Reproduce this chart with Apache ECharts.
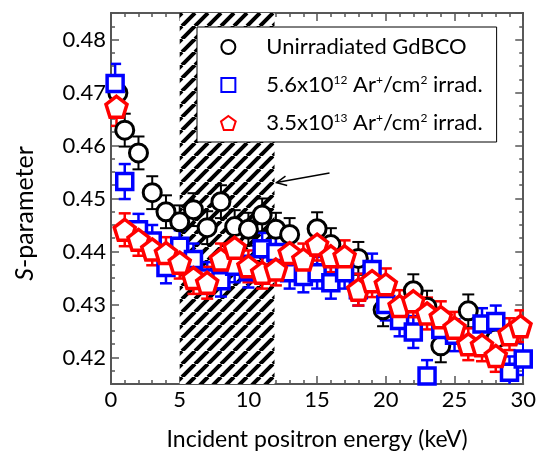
<!DOCTYPE html>
<html>
<head>
<meta charset="utf-8">
<script src="https://cdn.jsdelivr.net/npm/echarts@6/dist/echarts.min.js"></script>
<style>
  html, body { margin: 0; padding: 0; background: #fff; }
  #chart { width: 539px; height: 456px; }
</style>
</head>
<body>
<div id="chart"></div>
<script>
// data
const seriesNames = ['Unirradiated GdBCO', '5.6x10^12 Ar+/cm2 irrad.', '3.5x10^13 Ar+/cm2 irrad.']

const unirrEnergy = [0.5, 1, 2, 3, 4, 5, 6, 7, 8, 9, 10, 11, 12, 13, 15, 16, 18, 19.8, 22, 23, 24, 26, 28]
const unirrS = [0.4699, 0.4629, 0.4586, 0.4511, 0.4475, 0.4456, 0.4479, 0.4445, 0.4494, 0.4447, 0.4442, 0.4469,
  0.4442, 0.4432, 0.4443, 0.4413, 0.4387, 0.4290, 0.4326, 0.4295, 0.4222, 0.4288, 0.4235]
const unirrErr = [0.0031, 0.0031, 0.0031, 0.0031, 0.0031, 0.0031, 0.0031, 0.0031, 0.0031, 0.0031, 0.0031, 0.0031,
  0.0031, 0.0031, 0.0031, 0.0031, 0.0031, 0.0031, 0.0031, 0.0031, 0.0031, 0.0031, 0.0031]

const lowEnergy = [0.3, 1, 2, 3, 4, 5, 6, 7, 8, 9, 10, 11, 12, 13, 14, 15, 16, 17, 18, 19, 20, 21, 22, 23, 24, 25, 27, 28, 29, 30]
const lowS = [0.4717, 0.4532, 0.4441, 0.4420, 0.4370, 0.4410, 0.4385, 0.4350, 0.4345, 0.4372, 0.4362, 0.4405,
  0.4398, 0.4360, 0.4353, 0.4360, 0.4341, 0.4360, 0.4328, 0.4366, 0.4300, 0.4270, 0.4248, 0.4165,
  0.4253, 0.4242, 0.4263, 0.4268, 0.4172, 0.4197]
const lowErr = [0.0037, 0.0033, 0.003, 0.003, 0.003, 0.003, 0.003, 0.003, 0.003, 0.003, 0.003, 0.003,
  0.003, 0.003, 0.003, 0.003, 0.003, 0.003, 0.003, 0.003, 0.003, 0.003, 0.003, 0.003,
  0.003, 0.003, 0.003, 0.003, 0.003, 0.003]

const highEnergy = [0.4, 1, 2, 3, 4, 5, 6, 7, 8, 9, 10, 11, 12, 13, 14, 15, 16, 17, 18, 19, 20, 21, 22, 23, 24, 25, 26, 27, 28, 29, 29.8]
const highS = [0.4673, 0.4441, 0.4422, 0.4404, 0.4397, 0.4379, 0.4350, 0.4341, 0.4385, 0.4407, 0.4372, 0.4360,
  0.4366, 0.4397, 0.4385, 0.4413, 0.4391, 0.4391, 0.4328, 0.4344, 0.4338, 0.4297, 0.4306, 0.4283,
  0.4276, 0.4256, 0.4225, 0.4223, 0.4203, 0.4244, 0.4259]
const highErr = [0.0036, 0.0031, 0.003, 0.003, 0.003, 0.003, 0.003, 0.003, 0.003, 0.003, 0.003, 0.003,
  0.003, 0.003, 0.003, 0.003, 0.003, 0.003, 0.003, 0.003, 0.003, 0.003, 0.003, 0.003,
  0.003, 0.003, 0.003, 0.003, 0.003, 0.003, 0.003]

// shaded band (keV) and arrow [x0, y0, x1, y1]
const bandRange = [5, 11.9]
const arrowLine = [15.9, 0.4548, 12.05, 0.4530]

const font = 'Lato'
const axisColor = '#555'

const square = 'path://M-1,-1 L1,-1 L1,1 L-1,1 Z'
const pentagon = 'path://M0,-1 L0.951,-0.309 L0.588,0.809 L-0.588,0.809 L-0.951,-0.309 Z'

const makeHatch = () => {
  const s = 13
  const c = document.createElement('canvas')
  c.width = s
  c.height = s
  const ctx = c.getContext('2d')
  ctx.fillStyle = '#fff'
  ctx.fillRect(0, 0, s, s)
  ctx.strokeStyle = '#000'
  ctx.lineWidth = 4
  ctx.beginPath()
  for (const k of [-s, 0, s]) {
    ctx.moveTo(k, s)
    ctx.lineTo(k + s, 0)
  }
  ctx.stroke()
  return c
}

const zip = (xs, ys, es) => xs.map((x, i) => es ? [x, ys[i], es[i]] : [x, ys[i]])

const errorSeries = (xs, ys, es, color, width) => ({
  type: 'custom',
  clip: true,
  silent: true,
  data: zip(xs, ys, es),
  renderItem: (params, api) => {
    const x = api.value(0), y = api.value(1), e = api.value(2)
    const top = api.coord([x, y + e])
    const bot = api.coord([x, y - e])
    const w = 6
    const style = { stroke: color, lineWidth: width }
    return {
      type: 'group',
      children: [
        { type: 'line', shape: { x1: top[0], y1: top[1], x2: bot[0], y2: bot[1] }, style },
        { type: 'line', shape: { x1: top[0] - w, y1: top[1], x2: top[0] + w, y2: top[1] }, style },
        { type: 'line', shape: { x1: bot[0] - w, y1: bot[1], x2: bot[0] + w, y2: bot[1] }, style }
      ]
    }
  }
})

const legendLabel = {
  'Unirradiated GdBCO': '{n|Unirradiated GdBCO}',
  '5.6x10^12 Ar+/cm2 irrad.': '{n|5.6x10}{s|12}{n| Ar}{s|+}{n|/cm}{s|2}{n| irrad.}',
  '3.5x10^13 Ar+/cm2 irrad.': '{n|3.5x10}{s|13}{n| Ar}{s|+}{n|/cm}{s|2}{n| irrad.}'
}

const chart = echarts.init(document.getElementById('chart'))

const xBase = {
  type: 'value',
  min: 0,
  max: 30,
  interval: 5,
  splitLine: { show: false },
  axisLine: { onZero: false, lineStyle: { color: axisColor, width: 2 } },
  axisTick: { inside: true, length: 8, lineStyle: { color: axisColor, width: 1.5 } },
  minorTick: { show: true, splitNumber: 5, length: 4, lineStyle: { color: axisColor, width: 1.5 } }
}
const yBase = {
  type: 'value',
  min: 0.415,
  max: 0.485,
  minInterval: 0.01,
  maxInterval: 0.01,
  splitLine: { show: false },
  axisLine: { onZero: false, lineStyle: { color: axisColor, width: 2 } },
  axisTick: { inside: true, length: 8, lineStyle: { color: axisColor, width: 1.5 } },
  minorTick: { show: true, splitNumber: 4, length: 4, lineStyle: { color: axisColor, width: 1.5 } }
}

const option = {
  animation: false,
  textStyle: { fontFamily: font },
  grid: { left: 111, right: 14, top: 13, bottom: 72 },
  legend: {
    orient: 'vertical',
    left: 197,
    top: 27,
    padding: [9, 14, 8, 23],
    itemWidth: 66,
    itemHeight: 14,
    itemGap: 16,
    backgroundColor: '#fff',
    borderColor: '#000',
    borderWidth: 1,
    z: 10,
    data: seriesNames,
    formatter: name => legendLabel[name],
    textStyle: {
      color: '#000',
      rich: {
        n: { fontFamily: font, fontSize: 22, color: '#000' },
        s: { fontFamily: font, fontSize: 12, color: '#000', padding: [0, 0, 10, 0] }
      }
    }
  },
  xAxis: [
    {
      ...xBase,
      position: 'bottom',
      name: 'Incident positron energy (keV)',
      nameLocation: 'middle',
      nameGap: 44,
      nameTextStyle: { fontFamily: font, fontSize: 23, color: '#000' },
      axisLabel: { fontFamily: font, fontSize: 22, color: '#000', margin: 5 }
    },
    { ...xBase, position: 'top', axisLabel: { show: false }, axisLine: { onZero: false, lineStyle: { color: '#222', width: 1.5 } } }
  ],
  yAxis: [
    {
      ...yBase,
      position: 'left',
      name: '{i|S}-parameter',
      nameLocation: 'middle',
      nameGap: 74,
      nameTextStyle: {
        fontFamily: font,
        fontSize: 25,
        color: '#000',
        padding: [0, 30, 0, 0],
        rich: { i: { fontFamily: font, fontSize: 25, fontStyle: 'italic', color: '#000' } }
      },
      axisLabel: {
        fontFamily: font,
        fontSize: 22,
        color: '#000',
        margin: 5,
        formatter: v => {
          const r = Math.round(v * 100) / 100
          return Math.abs(r - v) < 1e-6 ? r.toFixed(2) : ''
        }
      }
    },
    { ...yBase, position: 'right', axisLabel: { show: false }, axisLine: { onZero: false, lineStyle: { color: '#222', width: 1.5 } } }
  ],
  series: [
    {
      ...errorSeries(unirrEnergy, unirrS, unirrErr, '#000', 2),
      markArea: {
        silent: true,
        itemStyle: { color: { image: makeHatch(), repeat: 'repeat' } },
        data: [[{ xAxis: bandRange[0] }, { xAxis: bandRange[1] }]]
      }
    },
    {
      name: seriesNames[0],
      type: 'scatter',
      symbol: 'circle',
      symbolSize: 18,
      data: zip(unirrEnergy, unirrS),
      itemStyle: { color: '#fff', borderColor: '#000', borderWidth: 3, opacity: 1 }
    },
    errorSeries(lowEnergy, lowS, lowErr, '#0000ff', 2.5),
    {
      name: seriesNames[1],
      type: 'scatter',
      symbol: square,
      symbolSize: 16,
      data: zip(lowEnergy, lowS),
      itemStyle: { color: '#fff', borderColor: '#0000ff', borderWidth: 3.5, opacity: 1 }
    },
    errorSeries(highEnergy, highS, highErr, '#ff0000', 2.5),
    {
      name: seriesNames[2],
      type: 'scatter',
      symbol: pentagon,
      symbolSize: 21,
      data: zip(highEnergy, highS),
      itemStyle: { color: '#fff', borderColor: '#ff0000', borderWidth: 3.5, opacity: 1 }
    },
    {
      type: 'custom',
      silent: true,
      z: 8,
      data: [arrowLine],
      renderItem: (params, api) => {
        const a = api.coord([api.value(0), api.value(1)])
        const b = api.coord([api.value(2), api.value(3)])
        const ang = Math.atan2(b[1] - a[1], b[0] - a[0])
        const len = 11, spread = 0.45
        const h1 = [b[0] - len * Math.cos(ang - spread), b[1] - len * Math.sin(ang - spread)]
        const h2 = [b[0] - len * Math.cos(ang + spread), b[1] - len * Math.sin(ang + spread)]
        const style = { stroke: '#000', lineWidth: 1.5 }
        return {
          type: 'group',
          children: [
            { type: 'line', shape: { x1: a[0], y1: a[1], x2: b[0], y2: b[1] }, style },
            { type: 'polyline', shape: { points: [h1, b, h2] }, style: { ...style, fill: null } }
          ]
        }
      }
    }
  ]
}

chart.setOption(option)
window.addEventListener('resize', () => chart.resize())
</script>
</body>
</html>
